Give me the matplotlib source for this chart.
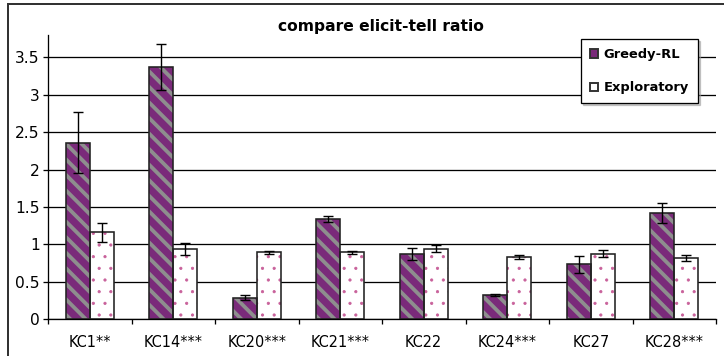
import matplotlib
matplotlib.use("Agg")
import matplotlib.pyplot as plt
from matplotlib.patches import Rectangle, Patch
import numpy as np

plt.rcParams['font.family'] = ['DejaVu Sans']

categories = ['KC1**', 'KC14***', 'KC20***', 'KC21***', 'KC22', 'KC24***', 'KC27', 'KC28***']
greedy = [2.36, 3.37, 0.285, 1.34, 0.87, 0.32, 0.73, 1.42]
greedy_err = [0.41, 0.31, 0.035, 0.04, 0.08, 0.01, 0.11, 0.13]
explo = [1.16, 0.94, 0.89, 0.89, 0.94, 0.83, 0.875, 0.81]
explo_err = [0.13, 0.08, 0.02, 0.02, 0.05, 0.03, 0.05, 0.04]

W, H = 724, 356
DPI = 140


def pt(v):
    # pixel size -> points at this dpi
    return v * 72.0 / DPI


fig = plt.figure(figsize=(W / DPI, H / DPI), dpi=DPI)
ax = fig.add_axes([48 / W, 1 - 319 / H, (716 - 48) / W, (319 - 35) / H])

x = np.arange(len(categories))
bw = 0.287

# greedy bars: purple with grey stripes
with plt.rc_context({'hatch.linewidth': pt(3.8)}):
    ax.bar(x - bw / 2, greedy, bw, color='#7a2a7a', edgecolor='#8e8e8e', hatch='\\\\\\', lw=0, zorder=2)
ax.bar(x - bw / 2, greedy, bw, color='none', edgecolor='#222222', lw=pt(1.6), zorder=3)
ax.errorbar(x - bw / 2, greedy, yerr=greedy_err, fmt='none', ecolor='black', elinewidth=pt(1.4),
            capsize=pt(4.5), capthick=pt(1.4), zorder=4)

# exploratory bars: white with pink dots
with plt.rc_context({'hatch.linewidth': pt(0.8)}):
    ax.bar(x + bw / 2, explo, bw, color='white', edgecolor='#c8609a', hatch='..', lw=0, zorder=2)
ax.bar(x + bw / 2, explo, bw, color='none', edgecolor='#222222', lw=pt(1.6), zorder=3)
ax.errorbar(x + bw / 2, explo, yerr=explo_err, fmt='none', ecolor='black', elinewidth=pt(1.4),
            capsize=pt(4.5), capthick=pt(1.4), zorder=4)

ax.set_xlim(-0.5, len(categories) - 0.5)
ax.set_ylim(0, 3.8)
ax.set_yticks([0, 0.5, 1, 1.5, 2, 2.5, 3, 3.5])
ax.set_yticklabels(['0', '0.5', '1', '1.5', '2', '2.5', '3', '3.5'], fontsize=pt(15.5))
ax.yaxis.grid(True, color='black', lw=pt(1.3))
ax.set_axisbelow(True)

ax.set_xticks(np.arange(len(categories) + 1) - 0.5)
ax.set_xticklabels([])
ax.set_xticks(x, minor=True)
ax.set_xticklabels(categories, minor=True, fontsize=pt(14.5))
ax.tick_params(axis='x', which='minor', length=0, pad=pt(16))
ax.tick_params(axis='x', which='major', length=pt(5), width=pt(1.3), direction='out')
ax.tick_params(axis='y', length=pt(5), width=pt(1.3), direction='out', pad=pt(3))

for s in ['top', 'right']:
    ax.spines[s].set_visible(False)
ax.spines['left'].set_linewidth(pt(1.3))
ax.spines['bottom'].set_linewidth(pt(1.3))

fig.text(381 / W, 1 - 26 / H, 'compare elicit-tell ratio', ha='center', va='center',
         fontsize=pt(15.5), fontweight='bold')

handles = [Patch(facecolor='#7a2a7a', edgecolor='#333333', label='Greedy-RL'),
           Patch(facecolor='white', edgecolor='#333333', label='Exploratory')]
leg = fig.legend(handles=handles, loc='upper right', bbox_to_anchor=(698 / W, 1 - 39 / H),
                 frameon=True, fancybox=False,
                 shadow={'ox': pt(2), 'oy': -pt(2), 'color': '#9a9a9a'},
                 handlelength=0.6, handleheight=0.6,
                 handletextpad=0.45, labelspacing=1.55, borderpad=0.7, borderaxespad=0,
                 prop={'weight': 'bold', 'size': pt(13)})
leg.get_frame().set_edgecolor('black')
leg.get_frame().set_linewidth(pt(1.3))

fig.patches.append(Rectangle((8 / W, -0.1), 1.2, 1 - 4 / H + 0.1, transform=fig.transFigure,
                             fill=False, edgecolor='#333333', lw=pt(2)))

fig.savefig('out.png', dpi=DPI)
